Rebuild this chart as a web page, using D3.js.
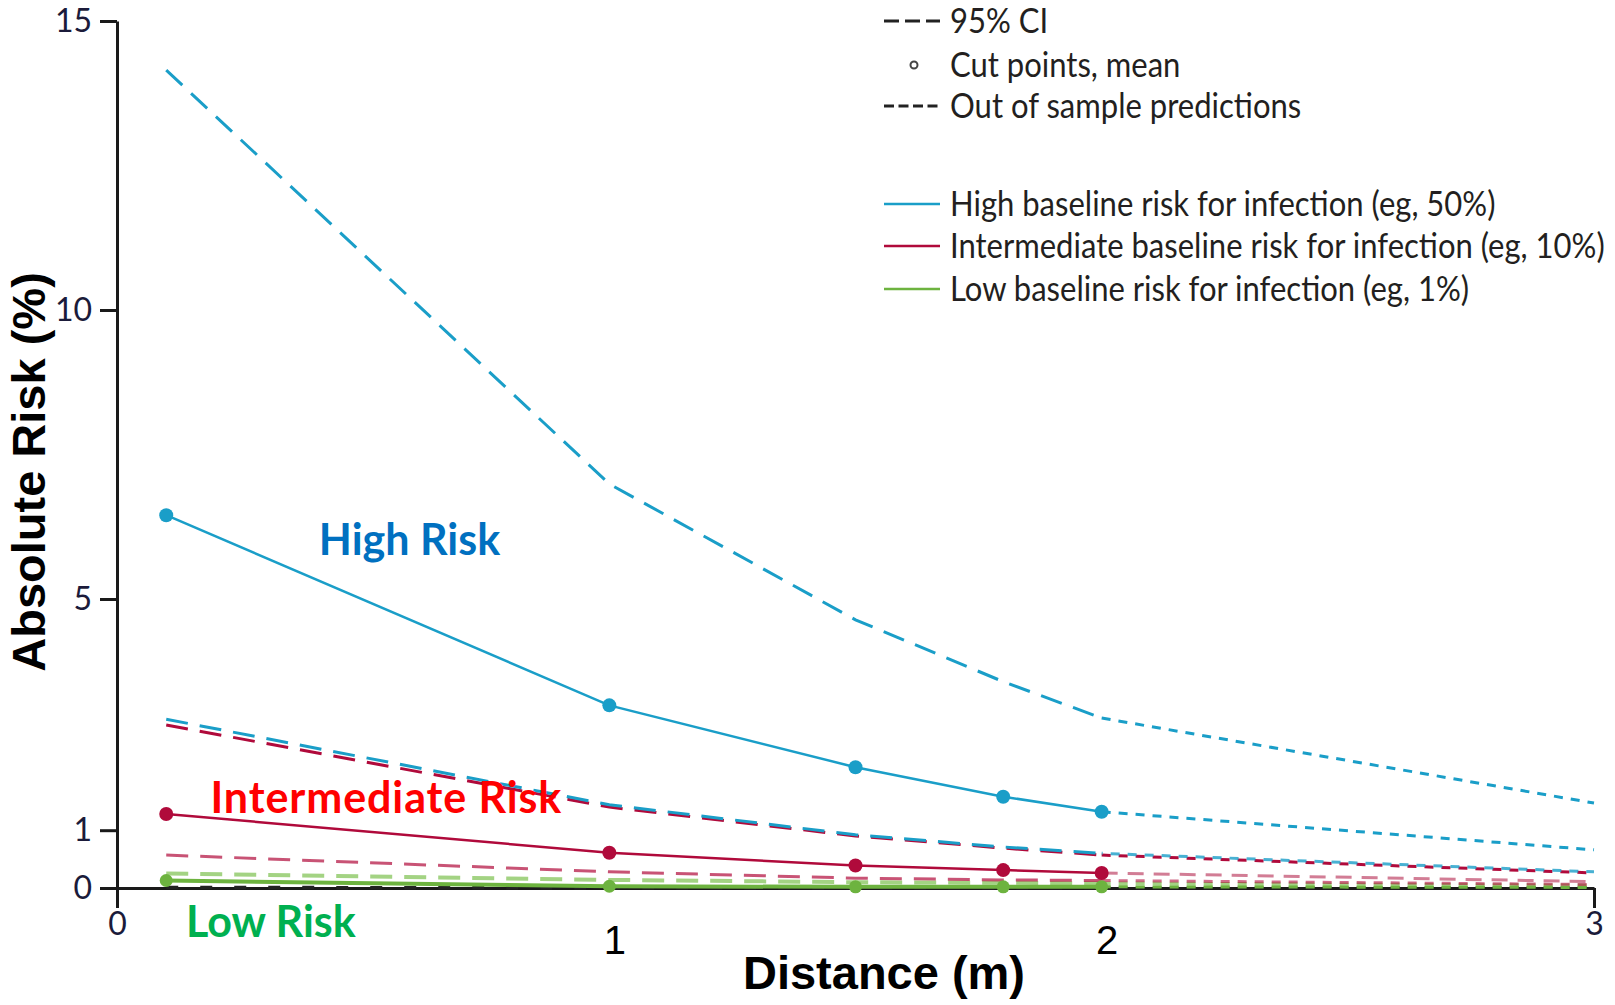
<!DOCTYPE html>
<html>
<head>
<meta charset="utf-8">
<script src="https://cdn.jsdelivr.net/npm/d3@7"></script>
<style>
  body { margin: 0; background: #fff; }
  svg { display: block; }
</style>
</head>
<body>
<svg width="1615" height="1005"></svg>
<script>
// cut points (m) and out of sample range
var distance = [0.1, 1.0, 1.5, 1.8, 2.0];
var outDistance = [2.0, 3.0];

// absolute risk (%) at each cut point
var highMean  = [6.45, 3.16, 2.09, 1.58, 1.32];
var highUpper = [14.15, 6.99, 4.64, 3.57, 2.94];
var highLower = [2.92, 1.44, 0.92, 0.71, 0.60];
var highMeanOut  = [1.32, 0.66];
var highUpperOut = [2.94, 1.47];
var highLowerOut = [0.60, 0.28];

var intMean  = [1.28, 0.61, 0.39, 0.31, 0.26];
var intUpper = [2.82, 1.40, 0.90, 0.69, 0.57];
var intLower = [0.57, 0.28, 0.17, 0.14, 0.13];
var intMeanOut  = [0.26, 0.11];
var intUpperOut = [0.57, 0.26];
var intLowerOut = [0.13, 0.06];

var lowMean  = [0.13, 0.03, 0.02, 0.02, 0.02];
var lowUpper = [0.25, 0.14, 0.10, 0.09, 0.08];
var lowLower = [0.01, 0.0, 0.0, 0.0, 0.0];
var lowMeanOut  = [0.02, 0.01];
var lowUpperOut = [0.08, 0.04];
var lowLowerOut = [0.0, 0.0];

var yTicks = [0, 1, 5, 10, 15];
var xTicks = [0, 1, 2, 3];

var legendTop = ["95% CI", "Cut points, mean", "Out of sample predictions"];
var legendSeries = ["High baseline risk for infection (eg, 50%)",
                    "Intermediate baseline risk for infection (eg, 10%)",
                    "Low baseline risk for infection (eg, 1%)"];
var riskLabels = ["High Risk", "Intermediate Risk", "Low Risk"];

var blue = "#1a9ec8", red = "#b00a3b", green = "#6db33f";

var svg = d3.select("svg");

var x = d3.scaleLinear().domain([0, 3]).range([117, 1594]);
var y = d3.scaleLinear().domain([0, 15]).range([888, 21]);

var line = d3.line()
    .x(function(d) { return x(d[0]); })
    .y(function(d) { return y(d[1]); });

function pairs(xs, ys) { return xs.map(function(v, i) { return [v, ys[i]]; }); }

// axes
var yAxis = svg.append("g")
    .attr("transform", "translate(117,0)")
    .call(d3.axisLeft(y).tickValues(yTicks).tickSize(17).tickSizeOuter(0).tickPadding(8));
var xAxis = svg.append("g")
    .attr("transform", "translate(0,888)")
    .call(d3.axisBottom(x).tickValues(xTicks).tickFormat(d3.format("d"))
      .tickSize(20).tickSizeOuter(0).tickPadding(4));

svg.selectAll(".domain, .tick line").attr("stroke", "#1a1a1a").attr("stroke-width", 3);
yAxis.selectAll("text").attr("font-family", "Lato").attr("font-size", 32).attr("fill", "#1b1b3a");
xAxis.selectAll("text").attr("font-family", "Lato").attr("font-size", 32).attr("fill", "#1b1b3a");
xAxis.selectAll(".tick").filter(function(d) { return d === 1 || d === 2; })
    .each(function() {
      d3.select(this).select("line").remove();
      d3.select(this).select("text")
        .attr("font-family", "Liberation Sans, Arial").attr("font-size", 40)
        .attr("fill", "#000").attr("dx", 5).attr("dy", "1.05em");
    });

// lines
var series = [
  {xs: distance, ys: lowUpper, color: "#a3d383", w: 4, dash: "22,12"},
  {xs: outDistance, ys: lowUpperOut, color: "#a3d383", w: 4, dash: "9,8"},
  {xs: distance, ys: lowLower, color: "#222", w: 3.5, dash: "12,22"},
  {xs: outDistance, ys: lowLowerOut, color: "#222", w: 3, dash: "9,8"},
  {xs: distance, ys: intLower, color: red, w: 3, dash: "22,12", op: 0.7},
  {xs: outDistance, ys: intLowerOut, color: red, w: 3, dash: "9,8", op: 0.6},
  {xs: distance, ys: intUpper, color: red, w: 3, dash: "22,12"},
  {xs: outDistance, ys: intUpperOut, color: red, w: 3, dash: "9,8"},
  {xs: distance, ys: highLower, color: blue, w: 3, dash: "22,12", off: 0},
  {xs: outDistance, ys: highLowerOut, color: blue, w: 3, dash: "9,8", off: 8, op: 0.8},
  {xs: distance, ys: highUpper, color: blue, w: 3, dash: "22,12"},
  {xs: outDistance, ys: highUpperOut, color: blue, w: 3, dash: "9,8"},
  {xs: outDistance, ys: highMeanOut, color: blue, w: 3, dash: "9,8"},
  {xs: outDistance, ys: intMeanOut, color: "#d27d95", w: 3, dash: "16,10"},
  {xs: outDistance, ys: lowMeanOut, color: green, w: 3, dash: "9,8"},
  {xs: distance, ys: lowMean, color: green, w: 4},
  {xs: distance, ys: intMean, color: red, w: 2.5},
  {xs: distance, ys: highMean, color: blue, w: 2.5}
];

svg.append("g").selectAll("path")
  .data(series)
  .enter().append("path")
    .attr("d", function(d) { return line(pairs(d.xs, d.ys)); })
    .attr("fill", "none")
    .attr("stroke", function(d) { return d.color; })
    .attr("stroke-width", function(d) { return d.w; })
    .attr("stroke-dasharray", function(d) { return d.dash || null; })
    .attr("stroke-dashoffset", function(d) { return d.off || 0; })
    .attr("stroke-opacity", function(d) { return d.op || 1; });

// cut point dots
var dots = [
  {ys: lowMean, color: green, r: 6.5},
  {ys: intMean, color: red, r: 7},
  {ys: highMean, color: blue, r: 7}
];
dots.forEach(function(s) {
  svg.append("g").selectAll("circle")
    .data(pairs(distance, s.ys))
    .enter().append("circle")
      .attr("cx", function(d) { return x(d[0]); })
      .attr("cy", function(d) { return y(d[1]); })
      .attr("r", s.r)
      .attr("fill", s.color);
});

// risk labels
var labelPos = [[0.41, 5.76, "#0070c0", 0], [0.19, 1.29, "#ff0000", 0.9], [0.14, -0.85, "#00b050", 0]];
svg.append("g").selectAll("text")
  .data(riskLabels)
  .enter().append("text")
    .attr("x", function(d, i) { return x(labelPos[i][0]); })
    .attr("y", function(d, i) { return y(labelPos[i][1]); })
    .attr("font-family", "Lato")
    .attr("font-weight", "bold")
    .attr("font-size", 43)
    .attr("letter-spacing", function(d, i) { return labelPos[i][3]; })
    .attr("fill", function(d, i) { return labelPos[i][2]; })
    .text(function(d) { return d; });

// axis titles
svg.append("text")
    .attr("transform", "translate(45,472) rotate(-90)")
    .attr("text-anchor", "middle")
    .attr("font-family", "Liberation Sans, Arial")
    .attr("font-weight", "bold")
    .attr("font-size", 47)
    .text("Absolute Risk (%)");
svg.append("text")
    .attr("x", 884)
    .attr("y", 989)
    .attr("text-anchor", "middle")
    .attr("font-family", "Liberation Sans, Arial")
    .attr("font-weight", "bold")
    .attr("font-size", 47)
    .text("Distance (m)");

// legend
var legend = svg.append("g").attr("font-family", "Lato").attr("font-size", 34).attr("fill", "#231f20");
var rows = [
  {label: legendTop[0], y: 21, kind: "dash", dash: "15,6", color: "#222"},
  {label: legendTop[1], y: 65, kind: "dot"},
  {label: legendTop[2], y: 106, kind: "dash", dash: "10,4.5", color: "#222"},
  {label: legendSeries[0], y: 204, kind: "line", color: blue},
  {label: legendSeries[1], y: 246, kind: "line", color: red},
  {label: legendSeries[2], y: 289, kind: "line", color: green}
];
rows.forEach(function(r) {
  if (r.kind === "dot") {
    legend.append("circle").attr("cx", 914).attr("cy", r.y).attr("r", 3.5)
      .attr("fill", "#fff").attr("stroke", "#444").attr("stroke-width", 2);
  } else {
    legend.append("line").attr("x1", 884).attr("x2", 940).attr("y1", r.y).attr("y2", r.y)
      .attr("stroke", r.color).attr("stroke-width", r.kind === "line" ? 2.5 : 3)
      .attr("stroke-dasharray", r.dash || null);
  }
  r.text = legend.append("text").attr("x", 0).attr("y", 0).text(r.label);
});
var natural = rows[4].text.node().getComputedTextLength();
var squeeze = 655 / natural;
rows.forEach(function(r) {
  r.text.attr("transform", "translate(950," + (r.y + 12) + ") scale(" + squeeze + ",1)");
});
</script>
</body>
</html>
